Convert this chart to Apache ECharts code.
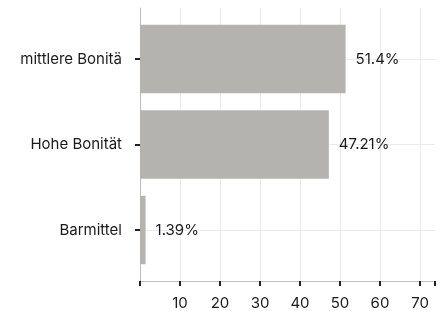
<!DOCTYPE html>
<html><head><meta charset="utf-8">
<script src="https://cdn.jsdelivr.net/npm/echarts@6/dist/echarts.min.js"></script>
<style>html,body{margin:0;padding:0;background:#fff}#c{width:445px;height:311px}</style>
</head><body><div id="c"></div>
<script>
const categories = ['mittlere Bonitä', 'Hohe Bonität', 'Barmittel'];
const values = [51.4, 47.21, 1.39];
const valueLabels = ['51.4%', '47.21%', '1.39%'];
const xTicks = [10, 20, 30, 40, 50, 60, 70];
const xMin = 0;
const xMax = 73.75;

const font = 'Inter, "Noto Sans", sans-serif';
const textColor = '#1a1a1a';
const gridColor = '#ebebeb';
const axisColor = '#bdbdbd';
const tickColor = '#222222';

const chart = echarts.init(document.getElementById('c'), null, {renderer: 'canvas'});
chart.setOption({
  animation: false,
  backgroundColor: '#ffffff',
  grid: [
    {left: 140, right: 10, top: 59, bottom: 81},
    {left: 140, right: 10, top: 8, bottom: 30}
  ],
  xAxis: [
    {gridIndex: 0, type: 'value', min: xMin, max: xMax, show: false},
    {
      gridIndex: 1, type: 'value', min: xMin, max: xMax, interval: 10,
      axisLine: {show: true, onZero: false, lineStyle: {color: axisColor, width: 1}},
      axisTick: {show: true, inside: false, length: 5, lineStyle: {color: tickColor, width: 2}},
      axisLabel: {show: true, customValues: xTicks, margin: 15, color: textColor, fontFamily: font, fontSize: 15},
      splitLine: {show: true, showMinLine: false, showMaxLine: false, lineStyle: {color: gridColor, width: 1}}
    }
  ],
  yAxis: [
    {
      gridIndex: 0, type: 'category', data: categories, inverse: true, boundaryGap: false, offset: 2,
      axisLine: {show: false},
      axisTick: {show: true, length: 5, lineStyle: {color: tickColor, width: 2}},
      axisLabel: {margin: 16, color: textColor, fontFamily: font, fontSize: 15},
      splitLine: {show: true, lineStyle: {color: gridColor, width: 1}}
    },
    {
      gridIndex: 1, type: 'value', min: 0, max: 1,
      axisLine: {show: true, onZero: false, lineStyle: {color: axisColor, width: 1}},
      axisTick: {show: false}, axisLabel: {show: false}, splitLine: {show: false}
    }
  ],
  series: [{
    type: 'bar', xAxisIndex: 0, yAxisIndex: 0, data: values, barWidth: '80%', clip: false,
    itemStyle: {color: '#b4b3af'},
    label: {
      show: true, position: 'right', distance: 10, color: textColor, fontFamily: font, fontSize: 15,
      formatter: p => valueLabels[p.dataIndex]
    }
  }]
});
</script></body></html>
